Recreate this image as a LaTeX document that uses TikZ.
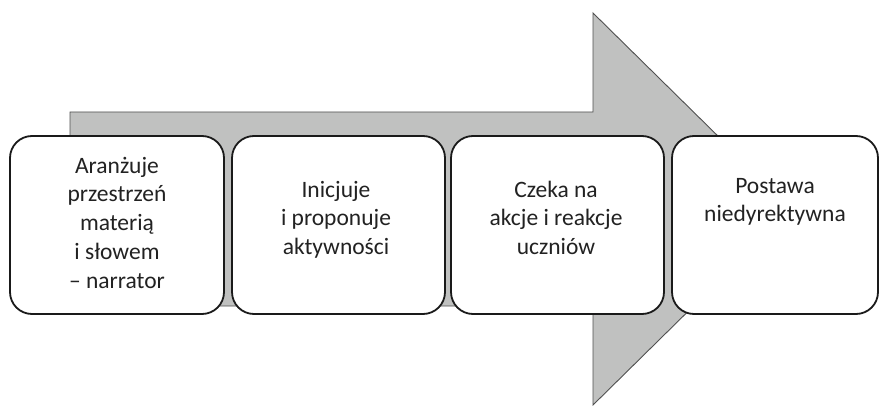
\documentclass[tikz,border=0pt]{standalone}
\usepackage{fontspec}
\setmainfont{Carlito}
\definecolor{arrowfill}{HTML}{C0C1C0}
\definecolor{arrowline}{HTML}{505050}
\definecolor{boxline}{HTML}{1A1A1A}
\definecolor{txt}{HTML}{222222}
\begin{document}
\begin{tikzpicture}[x=1pt,y=-1pt,
  stagebox/.style={draw=boxline, line width=1.8pt, fill=white, rounded corners=22pt,
    minimum height=178pt, inner sep=0pt},
  stagetext/.style={anchor=north, align=center, inner sep=0pt, text=txt,
    font=\fontsize{23.5pt}{28.7pt}\selectfont}
]
\useasboundingbox (0,0) rectangle (880,406);
% big arrow
\draw[fill=arrowfill, draw=arrowline, line width=0.9pt, line join=miter]
  (70,112) -- (593,112) -- (593,13) -- (792,209) -- (593,405) -- (593,306) -- (70,306) -- cycle;
% boxes
\node[stagebox, minimum width=214pt] (b1) at (117,225) {};
\node[stagebox, minimum width=213pt] (b2) at (338.5,225) {};
\node[stagebox, minimum width=213pt] (b3) at (557.5,225) {};
\node[stagebox, minimum width=206pt] (b4) at (775,225) {};
% texts
\node[stagetext] (t1) at (117,153) {\rule{0pt}{20pt}Aranżuje\\przestrzeń\\materią\\i słowem\\– narrator};
\node[stagetext] (t2) at (336,177) {\rule{0pt}{20pt}Inicjuje\\i proponuje\\aktywności};
\node[stagetext] (t3) at (556,177) {\rule{0pt}{20pt}Czeka na\\akcje i reakcje\\uczniów};
\node[stagetext] (t4) at (775,173) {\rule{0pt}{20pt}Postawa\\niedyrektywna};
\end{tikzpicture}
\end{document}
